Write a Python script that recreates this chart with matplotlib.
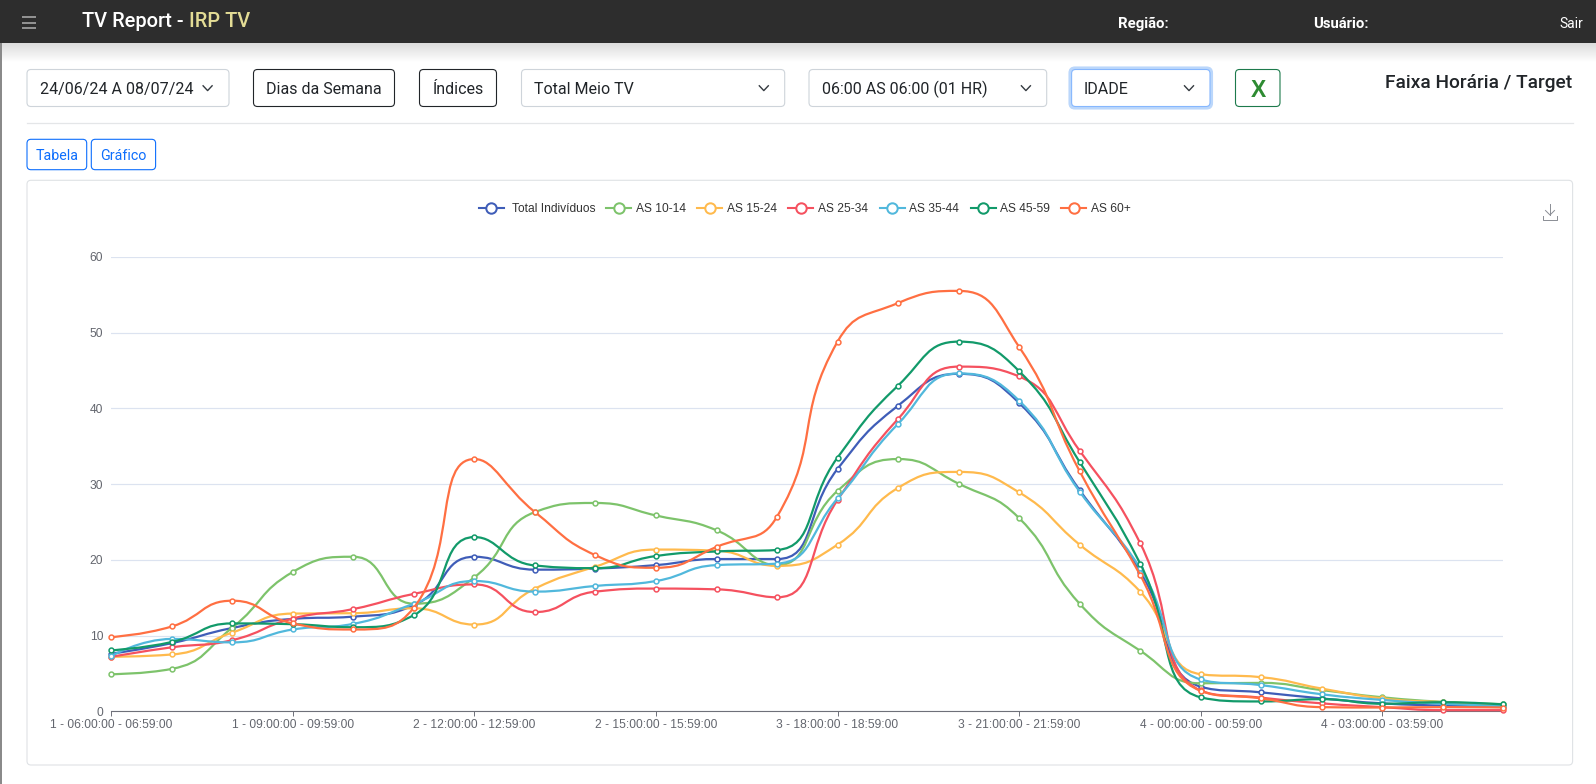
import numpy as np
import matplotlib
matplotlib.use("Agg")
import matplotlib.pyplot as plt
from matplotlib.patches import FancyBboxPatch, PathPatch, Rectangle
from matplotlib.path import Path

W, H = 1596, 784
UI_FONT = ["Roboto", "DejaVu Sans"]
CHART_FONT = ["Liberation Sans", "DejaVu Sans"]

# every hour of the grid, day number first
days = [1] * 6 + [2] * 6 + [3] * 6 + [4] * 6
hours = list(range(6, 24)) + list(range(0, 6))
categories = ["%d - %02d:00:00 - %02d:59:00" % (d, h, h) for d, h in zip(days, hours)]

total = [7.6, 9.0, 11.0, 12.2, 12.5, 14.0, 20.4, 18.7, 18.85, 19.3, 20.1, 20.1,
         32.0, 40.35, 44.55, 40.7, 29.2, 18.45, 3.25, 2.5, 1.7, 1.05, 0.75, 0.6]
as_10_14 = [4.9, 5.6, 11.05, 18.4, 20.4, 14.2, 17.7, 26.3, 27.5, 25.85, 23.9, 19.3,
            29.1, 33.3, 30.05, 25.5, 14.2, 8.0, 3.7, 3.75, 2.8, 1.85, 1.25, 0.95]
as_15_24 = [7.2, 7.5, 10.4, 12.9, 12.95, 13.6, 11.45, 16.2, 19.1, 21.35, 21.2, 19.2,
            22.0, 29.5, 31.6, 28.9, 22.0, 15.8, 4.9, 4.5, 3.0, 1.7, 1.2, 0.85]
as_25_34 = [7.2, 8.45, 9.4, 12.25, 13.5, 15.5, 16.75, 13.1, 15.8, 16.2, 16.1, 15.05,
            27.9, 38.6, 45.5, 44.2, 34.4, 22.2, 2.75, 1.8, 1.05, 0.55, 0.15, 0.15]
as_35_44 = [7.3, 9.55, 9.1, 10.8, 11.55, 14.2, 17.2, 15.8, 16.55, 17.2, 19.3, 19.5,
            28.1, 37.95, 44.6, 41.0, 29.0, 18.9, 4.2, 3.45, 2.25, 1.5, 1.0, 0.7]
as_45_59 = [8.05, 9.15, 11.6, 11.5, 11.1, 12.7, 23.0, 19.25, 18.9, 20.5, 21.1, 21.3,
            33.5, 43.0, 48.8, 44.9, 32.9, 19.5, 1.85, 1.3, 1.6, 1.0, 1.2, 0.9]
as_60 = [9.8, 11.2, 14.6, 11.6, 10.8, 13.7, 33.3, 26.3, 20.6, 18.95, 21.7, 25.7,
         48.8, 53.9, 55.5, 48.1, 31.7, 18.0, 2.7, 1.7, 0.55, 0.5, 0.55, 0.5]

series_names = ["Total Indivíduos", "AS 10-14", "AS 15-24", "AS 25-34", "AS 35-44", "AS 45-59", "AS 60+"]
series_values = [total, as_10_14, as_15_24, as_25_34, as_35_44, as_45_59, as_60]
series_colors = ["#3F5DB8", "#7DC36B", "#FFBA4D", "#F5515F", "#51B8DC", "#129A6A", "#FF6F42"]
legend_x = [478.6, 606, 697, 788, 879.7, 970.6, 1061]
legend_text_x = [511.7, 636, 727, 818, 909, 1000, 1091]

y_ticks = [0, 10, 20, 30, 40, 50, 60]

# chart area, in pixels of the picture
plot_left, plot_right, plot_top, plot_bottom = 111.3, 1503.3, 256.8, 711.3


# bezier control points the way echarts does smooth:true, keeps peaks on the points
def smooth_path(values, sx, sy, smooth=0.5):
    xs = np.arange(len(values), dtype=float) * sx
    ys = np.array(values, dtype=float) * sy
    n = len(ys)
    verts = [(xs[0] / sx, ys[0] / sy)]
    codes = [Path.MOVETO]
    cx, cy = xs[0], ys[0]
    for i in range(1, n):
        x, y = xs[i], ys[i]
        nx_cx, nx_cy = x, y
        c1x, c1y = x, y
        if i < n - 1:
            px, py = xs[i - 1], ys[i - 1]
            qx, qy = xs[i + 1], ys[i + 1]
            vx, vy = qx - px, qy - py
            len_prev = np.hypot(x - px, y - py)
            len_next = np.hypot(qx - x, qy - y)
            ratio = len_next / (len_next + len_prev)
            nx_cx = x + vx * smooth * ratio
            nx_cy = y + vy * smooth * ratio
            nx_cx = max(min(nx_cx, max(qx, x)), min(qx, x))
            nx_cy = max(min(nx_cy, max(qy, y)), min(qy, y))
            vx, vy = nx_cx - x, nx_cy - y
            c1x = x - vx * len_prev / len_next
            c1y = y - vy * len_prev / len_next
            c1x = max(min(c1x, max(px, x)), min(px, x))
            c1y = max(min(c1y, max(py, y)), min(py, y))
            vx, vy = x - c1x, y - c1y
            nx_cx = x + vx * len_next / len_prev
            nx_cy = y + vy * len_next / len_prev
        verts += [(cx / sx, cy / sy), (c1x / sx, c1y / sy), (x / sx, y / sy)]
        codes += [Path.CURVE4, Path.CURVE4, Path.CURVE4]
        cx, cy = nx_cx, nx_cy
    return Path(verts, codes)


fig = plt.figure(figsize=(W / 100, H / 100), dpi=100, facecolor="white")

# page furniture is drawn on a full size axes in pixel coordinates
bg = fig.add_axes([0, 0, 1, 1])
bg.set_xlim(0, W)
bg.set_ylim(H, 0)
bg.axis("off")


def box(x1, y1, x2, y2, edge, face="white", lw=0.8, r=4, z=2):
    bg.add_patch(FancyBboxPatch((x1, y1), x2 - x1, y2 - y1, boxstyle="round,pad=0,rounding_size=%g" % r,
                                fc=face, ec=edge, lw=lw, zorder=z))


def label(x, y, s, size=11.5, color="#212529", ha="left", weight="normal", font=UI_FONT):
    return bg.text(x, y + 1.2, s, fontsize=size, color=color, ha=ha, va="center", fontweight=weight, family=font, zorder=5)


def chevron(x, y):
    bg.plot([x - 4.5, x, x + 4.5], [y - 2.2, y + 2.6, y - 2.2], color="#343a40", lw=1.0, zorder=5)


# header bar and its shadow
shadow = np.linspace(0.86, 1, 20).reshape(-1, 1)
bg.imshow(shadow, extent=(0, W, 63, 43), cmap="gray", vmin=0, vmax=1, aspect="auto", zorder=0)
bg.set_xlim(0, W)
bg.set_ylim(H, 0)
bg.add_patch(Rectangle((0, 0), W, 43, fc="#2D2D2D", ec="none", zorder=1))
bg.add_patch(Rectangle((0, 43), 1.5, H - 43, fc="#8A8A8A", ec="none", zorder=1))
for yy in [17, 22.5, 28]:
    bg.plot([22, 36], [yy, yy], color="#9C9C9C", lw=1.3, solid_capstyle="butt", zorder=3)
t = label(82.5, 20.5, "TV Report - ", size=14.4, color="white", weight="medium")
fig.canvas.draw()
bb = t.get_window_extent()
label(bb.x1, 20.5, "IRP TV", size=14.4, color="#E3DC95", weight="medium")
label(1117.8, 22.3, "Região:", size=10.7, color="white", weight="bold")
label(1312.7, 22.3, "Usuário:", size=10.7, color="white", weight="bold")
label(1559, 22.3, "Sair", size=10, color="white")

# filter row
box(27, 69.5, 229, 106.5, "#CED4DA")
label(39.8, 88, "24/06/24 A 08/07/24")
chevron(207.6, 88)
box(253.5, 69.5, 394.5, 106.5, "#212529")
label(324, 88, "Dias da Semana", ha="center")
box(419.5, 69.5, 496.5, 106.5, "#212529")
label(458, 88, "Índices", ha="center")
box(521.5, 69.5, 784.7, 106.5, "#CED4DA")
label(534, 88, "Total Meio TV")
chevron(763.8, 88)
box(809, 69.5, 1046.7, 106.5, "#CED4DA")
label(821.8, 88, "06:00 AS 06:00 (01 HR)")
chevron(1025.9, 88)
box(1069, 67, 1212.5, 109, "#BBD7FB", face="#BBD7FB", r=6)
box(1071.6, 69.5, 1210, 106.5, "#86B7FE", z=3)
label(1083.8, 88, "IDADE")
chevron(1189, 88)
box(1235.5, 69.5, 1280, 106.5, "#1D7A4C")
label(1258, 89.5, "X", size=16.5, color="#2E8B32", ha="center", weight="bold", font=CHART_FONT)
label(1572.6, 82, "Faixa Horária / Target", size=13.8, ha="right", weight="medium")
bg.plot([27, 1572.6], [122.5, 122.5], color="#E4E6E8", lw=0.9, zorder=2)

box(27, 139.3, 86.7, 169.7, "#0D6EFD")
label(56.8, 154.5, "Tabela", size=10.3, color="#0D6EFD", ha="center")
box(91.3, 139.3, 155.6, 169.7, "#0D6EFD")
label(123.4, 154.5, "Gráfico", size=10.3, color="#0D6EFD", ha="center")

# card behind the chart
box(27, 180.3, 1572.6, 765, "#DFE2E5", r=4, z=1)

# legend row
for name, color, lx, tx in zip(series_names, series_colors, legend_x, legend_text_x):
    bg.plot([lx, lx + 25], [208, 208], color=color, lw=1.5, zorder=3)
    bg.plot([lx + 12.5], [208], "o", ms=7.5, mfc="white", mec=color, mew=1.45, zorder=4)
    label(tx, 207.3, name, size=8.64, color="#333333", font=CHART_FONT)

# download icon
bg.plot([1550, 1550], [204, 215], color="#8A8D94", lw=0.7, zorder=3)
bg.plot([1545.5, 1550, 1554.5], [210.5, 215, 210.5], color="#8A8D94", lw=0.7, zorder=3)
bg.plot([1542.8, 1542.8, 1557.2, 1557.2], [216, 220, 220, 216], color="#8A8D94", lw=0.7, zorder=3)

# the chart itself
ax = fig.add_axes([plot_left / W, 1 - plot_bottom / H, (plot_right - plot_left) / W, (plot_bottom - plot_top) / H])
ax.patch.set_alpha(0)
ax.set_xlim(0, len(categories) - 1)
ax.set_ylim(0, 60)
for s in ["top", "right", "left"]:
    ax.spines[s].set_visible(False)
ax.spines["bottom"].set_color("#6E7079")
ax.spines["bottom"].set_linewidth(0.8)
ax.set_yticks(y_ticks)
ax.set_xticks(range(0, len(categories), 3))
ax.set_xticklabels(categories[::3], fontsize=8.64, color="#63666E", family=CHART_FONT)
ax.tick_params(axis="x", length=3.6, width=0.7, color="#6E7079", pad=2.3)
ax.tick_params(axis="y", length=0, labelsize=8.64, labelcolor="#63666E", pad=5.8)
for lb in ax.get_yticklabels():
    lb.set_family(CHART_FONT)
ax.grid(axis="y", color="#DCE3F0", lw=0.85)
ax.set_axisbelow(True)

sx = (plot_right - plot_left) / (len(categories) - 1)
sy = (plot_bottom - plot_top) / 60
for i, (vals, color) in enumerate(zip(series_values, series_colors)):
    ax.add_patch(PathPatch(smooth_path(vals, sx, sy), fc="none", ec=color, lw=1.6, clip_on=False, zorder=3 + i))
    ax.plot(range(len(vals)), vals, "o", ms=3.5, mfc="white", mec=color, mew=1.1, clip_on=False, zorder=3 + i)

fig.savefig("out.png", dpi=100, facecolor="white")
